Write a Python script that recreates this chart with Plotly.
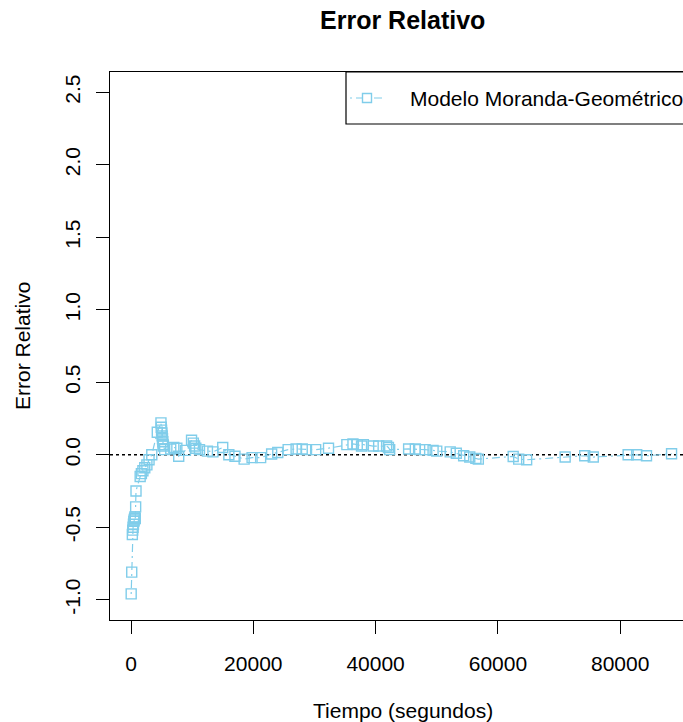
import plotly.graph_objects as go

# Data
tiempo = [30, 120, 220, 280, 340, 400, 460, 520, 580, 640, 700, 760, 820,
          1500, 1700, 1950, 2250, 2600, 2950, 3400, 4300, 4900, 4950, 5000,
          5050, 5100, 5150, 5200, 5250, 5300, 5500, 6500, 7000, 7500, 7800,
          8900, 9900, 10200, 10400, 10600, 11200, 12500, 13400, 15000, 16000,
          17000, 18500, 19800, 21200, 23000, 24000, 25700, 27000, 28000, 28700,
          30200, 32300, 35300, 36300, 37000, 37700, 38000, 39600, 40500, 41800,
          42100, 42300, 45400, 46500, 47200, 48100, 49400, 50000, 52200, 53200,
          54400, 55400, 56400, 56800, 62500, 63400, 64700, 71000, 74200, 75600,
          81300, 82700, 84300, 88400]
error_rel = [-0.96, -0.81, -0.55, -0.52, -0.50, -0.48, -0.46, -0.45, -0.44, -0.43,
             -0.44, -0.36, -0.25,
             -0.15, -0.13, -0.11, -0.09, -0.07, -0.035, 0.0, 0.155, 0.22, 0.19, 0.17,
             0.15, 0.13, 0.11, 0.09, 0.07, 0.06, 0.035, 0.04, 0.05, 0.045, -0.01,
             0.03, 0.10, 0.08, 0.06, 0.045, 0.035, 0.025, 0.02, 0.05, 0.0,
             -0.01, -0.03, -0.02, -0.02, 0.005, 0.015, 0.035, 0.04, 0.04, 0.035,
             0.035, 0.045, 0.07, 0.075, 0.07, 0.06, 0.07, 0.06, 0.06, 0.06,
             0.05, 0.035, 0.04, 0.04, 0.035, 0.035, 0.03, 0.025, 0.02, 0.01,
             -0.007, -0.016, -0.025, -0.03, -0.012, -0.03, -0.035, -0.016, -0.007, -0.016,
             0.0, 0.0, -0.007, 0.007]

x_ticks = [0, 20000, 40000, 60000, 80000]
y_ticks = [-1.0, -0.5, 0.0, 0.5, 1.0, 1.5, 2.0, 2.5]
y_tick_labels = ["-1.0", "-0.5", "0.0", "0.5", "1.0", "1.5", "2.0", "2.5"]
serie_nombre = "Modelo Moranda-Geométrico"

COLOR = "#80CDEA"
FONT = "Liberation Sans, Arial, sans-serif"

W, H = 683, 722
L, R, T, B = 110, 0, 72, 102
PW = W - L - R
PH = H - T - B

def px_x(p):
    return (p - L) / PW

def px_y(p):
    return (H - B - p) / PH

fig = go.Figure()
fig.add_trace(go.Scatter(
    x=tiempo, y=error_rel, mode="lines+markers", name=serie_nombre,
    line=dict(color=COLOR, width=1.2, dash="2px,4px,8px,4px"),
    marker=dict(symbol="square-open", size=10, color=COLOR, line=dict(width=1.4, color=COLOR)),
    showlegend=False,
))

shapes = [
    dict(type="line", xref="paper", yref="y", x0=0, x1=1, y0=0, y1=0,
         line=dict(color="black", width=1.5, dash="dot"), layer="below"),
    dict(type="rect", xref="paper", yref="paper", x0=px_x(346), x1=1.2,
         y0=px_y(124), y1=px_y(72), line=dict(color="black", width=1.2),
         fillcolor="white"),
    dict(type="line", xref="paper", yref="paper", x0=px_x(350), x1=px_x(384),
         y0=px_y(98), y1=px_y(98), line=dict(color=COLOR, width=1.2, dash="2px,4px,8px,4px")),
    dict(type="rect", xref="paper", yref="paper", x0=px_x(362.5), x1=px_x(371.5),
         y0=px_y(102.5), y1=px_y(93.5), line=dict(color=COLOR, width=1.4), fillcolor="white"),
]

annotations = [
    dict(text="<b>Error Relativo</b>", xref="paper", yref="paper", x=px_x(402), y=px_y(20),
         xanchor="center", yanchor="middle", showarrow=False,
         font=dict(family=FONT, size=25, color="black")),
    dict(text="Tiempo (segundos)", xref="paper", yref="paper", x=px_x(403), y=px_y(710),
         xanchor="center", yanchor="middle", showarrow=False,
         font=dict(family=FONT, size=21, color="black")),
    dict(text="Error Relativo", xref="paper", yref="paper", x=px_x(22), y=px_y(346),
         xanchor="center", yanchor="middle", showarrow=False, textangle=-90,
         font=dict(family=FONT, size=21, color="black")),
    dict(text=serie_nombre, xref="paper", yref="paper", x=px_x(408), y=px_y(98),
         xanchor="left", yanchor="middle", showarrow=False,
         font=dict(family=FONT, size=21, color="black")),
]

fig.update_layout(
    width=W, height=H,
    margin=dict(l=L, r=R, t=T, b=B, autoexpand=False),
    paper_bgcolor="white", plot_bgcolor="white",
    font=dict(family=FONT, size=21, color="black"),
    shapes=shapes, annotations=annotations,
    showlegend=False,
)
fig.update_xaxes(
    range=[-3434, 90270], tickvals=x_ticks, ticktext=[str(v) for v in x_ticks],
    showgrid=False, zeroline=False, showline=True, linecolor="black", linewidth=1.2,
    mirror=True, ticks="outside", ticklen=13, tickcolor="black", tickwidth=1.2,
    ticklabelstandoff=12, tickfont=dict(family=FONT, size=21, color="black"),
)
fig.update_yaxes(
    range=[-1.14, 2.64], tickvals=y_ticks, ticktext=y_tick_labels,
    showgrid=False, zeroline=False, showline=True, linecolor="black", linewidth=1.2,
    mirror=False, ticks="outside", ticklen=13, tickcolor="black", tickwidth=1.2,
    tickangle=-90, ticklabelstandoff=8, tickfont=dict(family=FONT, size=21, color="black"),
)

fig.write_html(
    "out.html",
    config={"displayModeBar": False},
    post_script="document.body.style.margin='0px';document.body.style.overflow='hidden';",
)
